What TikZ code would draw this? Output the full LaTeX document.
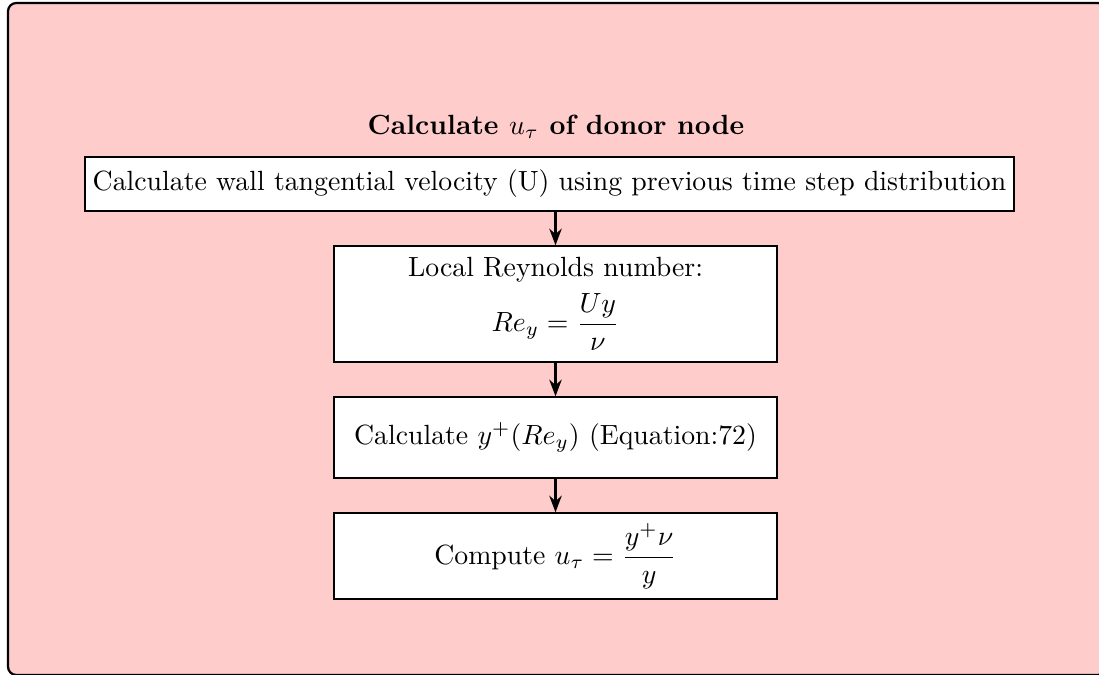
\documentclass[tikz,border=0pt]{standalone}
\usetikzlibrary{arrows.meta}
\begin{document}
\begin{tikzpicture}[x=0.36pt,y=-0.36pt,
  stepbox/.style={draw=black, line width=0.5pt, fill=white, inner sep=0pt, align=center},
  conn/.style={thick,-{Stealth[length=6pt,width=4.5pt]}}]
\useasboundingbox (0,0) rectangle (1099,675);
\begin{scope}
\clip (0,0) rectangle (1099,675);
\draw[thick, fill=red!20, rounded corners=3pt] (8,3) rectangle (1106,675);
\end{scope}
\node[font=\bfseries] (title) at (556,127) {Calculate $u_\tau$ of donor node};
\node[stepbox, minimum width=929*0.36pt, minimum height=54*0.36pt] (b1) at (549.5,184)
  {Calculate wall tangential velocity (U) using previous time step distribution};
\node[stepbox, minimum width=443*0.36pt, minimum height=116*0.36pt] (b2) at (555.5,304)
  {Local Reynolds number:\\[3pt] $\displaystyle Re_y=\frac{Uy}{\nu}$};
\node[stepbox, minimum width=443*0.36pt, minimum height=81*0.36pt] (b3) at (555.5,437.5)
  {Calculate $y^+(Re_y)$ (Equation:72)};
\node[stepbox, minimum width=443*0.36pt, minimum height=86*0.36pt] (b4) at (555.5,556)
  {Compute $\displaystyle u_\tau=\frac{y^+\nu}{y}$};
\draw[conn] (b1.south -| b2.north) -- (b2.north);
\draw[conn] (b2) -- (b3);
\draw[conn] (b3) -- (b4);
\end{tikzpicture}
\end{document}
